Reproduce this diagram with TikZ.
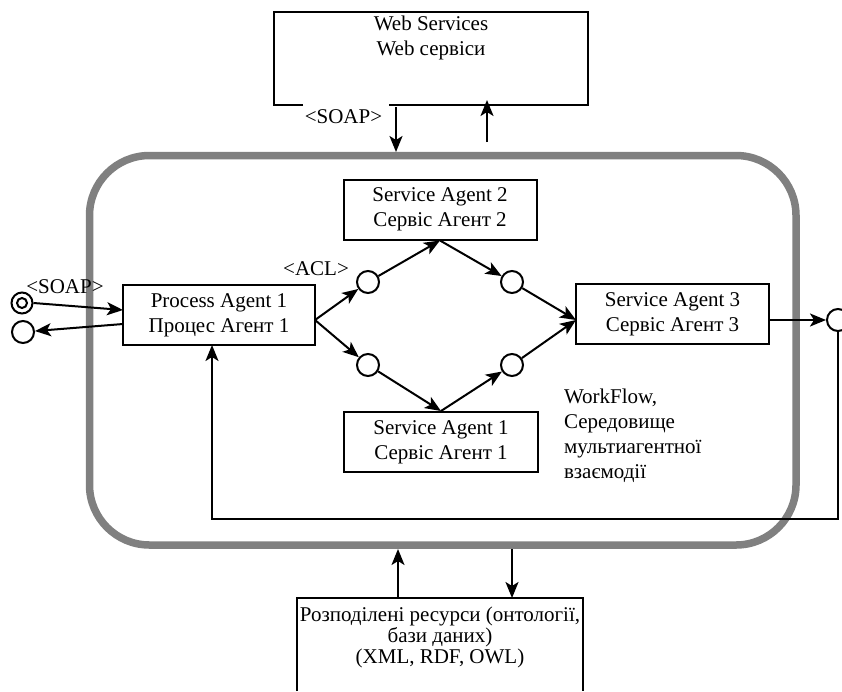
\documentclass[tikz,border=0pt]{standalone}
\usepackage{fontspec}
\setmainfont{Liberation Serif}
\usetikzlibrary{arrows.meta}
\begin{document}
\begin{tikzpicture}[x=1pt,y=-1pt,
  line width=2pt,
  arr/.style={-{Stealth[length=16pt,width=13pt,inset=4pt]}},
  txt/.style={font=\fontsize{21}{25}\selectfont, inner sep=0pt, align=center},
  agent/.style={draw, line width=2pt, minimum width=192pt, minimum height=60pt, inner sep=0pt, align=center, font=\fontsize{21}{25}\selectfont},
  port/.style={draw, circle, minimum size=22pt, inner sep=0pt, line width=2pt}]
\fill[white] (0,0) rectangle (842,691);
\useasboundingbox (0,0) rectangle (842,691);

% environment container
\node[draw=gray, line width=7.5pt, rounded corners=60pt, minimum width=706.5pt, minimum height=389.5pt, inner sep=0pt] (env) at (442.75,350.25) {};

% top box: Web Services
\draw (303,105) -- (274,105) -- (274,12) -- (588,12) -- (588,105) -- (389,105);
\node[txt] (ws) at (431,38) {Web Services\\Web сервіси};
\node[txt] (soapt) at (343.5,117) {<SOAP>};
\coordinate (wsd1) at (396,107);
\coordinate (wsd2) at (396,152);
\coordinate (wsu1) at (487,142);
\coordinate (wsu2) at (487,100);
\draw[arr] (wsd1) -- (wsd2);
\draw[arr] (wsu1) -- (wsu2);

% bottom box: resources
\draw (297,691) -- (297,598) -- (583,598) -- (583,691);
\node[txt, font=\fontsize{21}{21}\selectfont] (res) at (440,637) {Розподілені ресурси (онтології,\\бази даних)\\(XML, RDF, OWL)};
\coordinate (rbu1) at (398,598);
\coordinate (rbu2) at (398,549);
\coordinate (rbd1) at (512,549);
\coordinate (rbd2) at (512,598);
\draw[arr] (rbu1) -- (rbu2);
\draw[arr] (rbd1) -- (rbd2);

% agents
\node[agent] (pa) at (219,315) {Process Agent 1\\Процес Агент 1};
\node[agent, minimum width=193pt] (sa2) at (440,209.5) {Service Agent 2\\Сервіс Агент 2};
\node[agent, minimum width=194pt] (sa1) at (441,442) {Service Agent 1\\Сервіс Агент 1};
\node[agent, minimum width=193pt] (sa3) at (672.5,314) {Service Agent 3\\Сервіс Агент 3};

% ports
\node[port] (c1) at (368,282) {};
\node[port] (c2) at (512,282) {};
\node[port] (c3) at (368,365) {};
\node[port] (c4) at (512,365) {};

\coordinate (paout) at (315,320);
\coordinate (sa3in) at (576,320);
\draw[arr] (paout) -- (c1);
\draw[arr] (c1) -- (sa2.south);
\draw[arr] (sa2.south) -- (c2);
\draw[arr] (c2) -- (sa3in);
\draw[arr] (paout) -- (c3);
\draw[arr] (c3) -- (sa1.north);
\draw[arr] (sa1.north) -- (c4);
\draw[arr] (c4) -- (sa3in);

\node[txt] (acl) at (316,269) {<ACL>};

% left external ports
\node[draw, circle, minimum size=21pt, inner sep=0pt] (dc) at (22,303) {};
\node[draw, circle, minimum size=10pt, inner sep=0pt] (dci) at (22,303) {};
\node[port] (lc) at (23,332) {};
\node[txt] (soapl) at (65,287) {<SOAP>};
\coordinate (pain) at (123,310);
\coordinate (paret) at (123,324);
\draw[arr] (dc.east) -- (pain);
\draw[arr] (paret) -- (lc);

% right output port and feedback
\node[port] (rc) at (838,320) {};
\coordinate (sa3out) at (769,320);
\draw[arr] (sa3out) -- (rc);
\coordinate (fb1) at (838,519);
\coordinate (fb2) at (212,519);
\coordinate (fb3) at (212,345);
\draw[arr] (rc.south) -- (fb1) -- (fb2) -- (fb3);

% workflow label
\node[txt, align=left, anchor=west] (wf) at (563,435.5) {WorkFlow,\\Середовище\\мультиагентної\\взаємодії};
\end{tikzpicture}
\end{document}
